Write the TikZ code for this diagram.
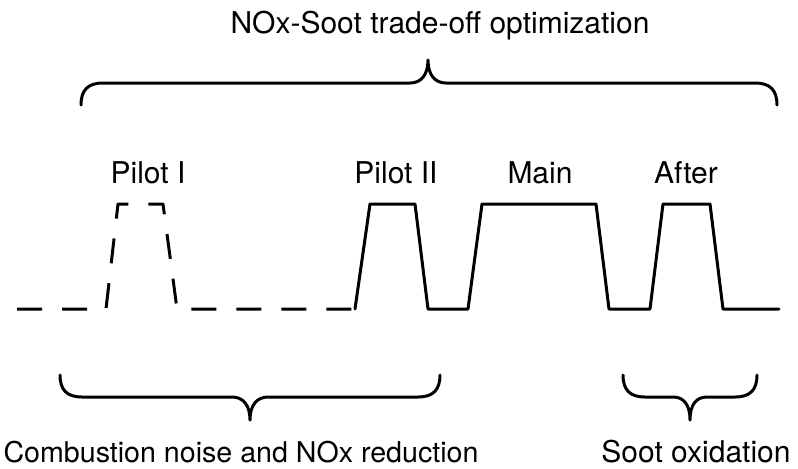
\documentclass[tikz,border=0pt]{standalone}
\usepackage{fontspec}
\setmainfont{TeX Gyre Heros}

\begin{document}
\begin{tikzpicture}[x=.5pt,y=-.5pt,line width=1.5pt,line join=round,line cap=round,
    font=\fontsize{15}{18}\selectfont,
    lbl/.style={anchor=base,inner sep=0pt}]
    \useasboundingbox (0,0) rectangle (798,468);
    % injection pulses
    \draw[line cap=butt,dash pattern=on 12.5pt off 10pt] (17,309)--(106,309)--(118,204)--(163,204)--(177,309)--(355,309);
    \draw (355,309)--(370,204)--(415,204)--(428,309)--(468,309)--(482,204)--(596,204)--(609,309)
        --(650,309)--(663,204)--(710,204)--(723,309)--(779,309);
    % braces
    \draw (81,105) .. controls (81,90) and (88,83) .. (103,83) -- (410,83)
        .. controls (421,83) and (428,75) .. (428,60) .. controls (428,75) and (435,83) .. (446,83)
        -- (755,83) .. controls (770,83) and (777,90) .. (777,105);
    \draw (60,375) .. controls (60,390) and (67,397) .. (82,397) -- (232,397)
        .. controls (243,397) and (250,405) .. (250,420) .. controls (250,405) and (257,397) .. (268,397)
        -- (418,397) .. controls (433,397) and (440,390) .. (440,375);
    \draw (623,375) .. controls (623,390) and (630,397) .. (645,397) -- (673,397)
        .. controls (684,397) and (690,405) .. (690,420) .. controls (690,405) and (696,397) .. (707,397)
        -- (735,397) .. controls (750,397) and (757,390) .. (757,375);
    % labels
    \node[lbl] (title) at (440,33) {NOx-Soot trade-off optimization};
    \foreach \n/\x/\t in {pilotI/148/Pilot I,pilotII/396/Pilot II,main/540/Main,after/686/After}
        \node[lbl] (\n) at (\x,183) {\t};
    \node[lbl,font=\fontsize{14.3}{18}\selectfont] (noise) at (241,462) {Combustion noise and NOx reduction};
    \node[lbl] (soot) at (696,462) {Soot oxidation};
\end{tikzpicture}
\end{document}
